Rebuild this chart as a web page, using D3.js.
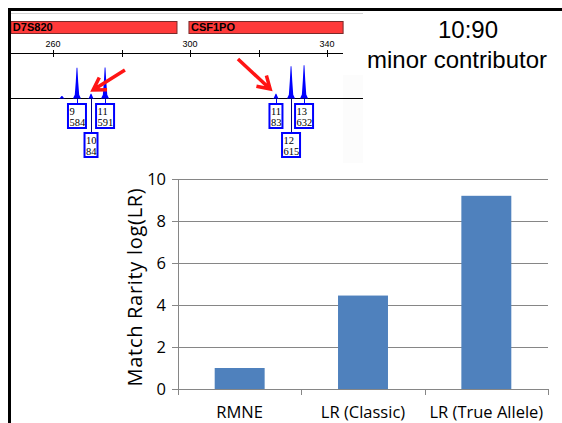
<!DOCTYPE html>
<html>
<head>
<meta charset="utf-8">
<script src="https://cdn.jsdelivr.net/npm/d3@7"></script>
<style>
  body { margin: 0; background: #fff; }
  svg { display: block; }
</style>
</head>
<body>
<div id="chart"></div>
<script>
// bar chart values
var categories = ['RMNE', 'LR (Classic)', 'LR (True Allele)'];
var values = [1.0, 4.45, 9.2];
var yTicks = [0, 2, 4, 6, 8, 10];

// electropherogram inset (base pairs / RFU)
var markers = [
  { name: 'D7S820', start: 247.7, end: 296.2 },
  { name: 'CSF1PO', start: 299.7, end: 344.7 }
];
var bpTicks = [260, 280, 300, 320, 340];
var bpLabels = [260, 300, 340];
var peakAllele = ['', '9', '10', '11', '11', '12', '13'];
var peakBp = [262.6, 267.0, 271.1, 275.2, 325.1, 329.5, 333.3];
var peakRfu = [40, 584, 84, 591, 83, 615, 632];
var peakRow = [-1, 0, 1, 0, 0, 1, 0];
// arrows: tail -> tip, in bp / RFU
var arrows = [
  { x0: 281.0, y0: 542, x1: 271.7, y1: 155 },
  { x0: 314.0, y0: 754, x1: 323.4, y1: 174 }
];

var W = 562, H = 423;

var svg = d3.select('#chart')
  .append('svg')
  .attr('width', W)
  .attr('height', H);

// ---------- electropherogram inset ----------
var bx = d3.scaleLinear().domain([260, 340]).range([53, 327]);
var by = d3.scaleLinear().domain([0, 600]).range([98, 67]);

var ep = svg.append('g').attr('class', 'epg');

ep.append('rect')
  .attr('x', 343).attr('y', 75)
  .attr('width', 20).attr('height', 88)
  .style('fill', '#fcfcfc');

ep.append('line')
  .attr('x1', 11).attr('x2', 363)
  .attr('y1', 13.5).attr('y2', 13.5)
  .style('stroke', '#d4d4d4');

var mk = ep.selectAll('.marker').data(markers).enter().append('g').attr('class', 'marker');
mk.append('rect')
  .attr('x', function(d){ return bx(d.start); })
  .attr('y', 21.5)
  .attr('width', function(d){ return bx(d.end) - bx(d.start); })
  .attr('height', 12)
  .style('fill', '#ff3a3a')
  .style('stroke', '#7a2a2a');
mk.append('text')
  .attr('x', function(d){ return bx(d.start) + 2; })
  .attr('y', 31)
  .style('font-family', 'Liberation Sans, Arial, sans-serif')
  .style('font-weight', 'bold')
  .style('font-size', '11px')
  .text(function(d){ return d.name; });

ep.append('line')
  .attr('x1', 11).attr('x2', 343)
  .attr('y1', 53.5).attr('y2', 53.5)
  .style('stroke', '#000');

ep.selectAll('.bptick').data(bpTicks).enter().append('line')
  .attr('class', 'bptick')
  .attr('x1', function(d){ return Math.round(bx(d)) + 0.5; })
  .attr('x2', function(d){ return Math.round(bx(d)) + 0.5; })
  .attr('y1', 50).attr('y2', 57)
  .style('stroke', '#000');

ep.selectAll('.bplabel').data(bpLabels).enter().append('text')
  .attr('class', 'bplabel')
  .attr('x', function(d){ return bx(d); })
  .attr('y', 47)
  .attr('text-anchor', 'middle')
  .style('font-family', 'Liberation Sans, Arial, sans-serif')
  .style('font-size', '9px')
  .text(function(d){ return d; });

// baseline
ep.append('line')
  .attr('x1', 11).attr('x2', 363)
  .attr('y1', 98.5).attr('y2', 98.5)
  .style('stroke', '#000');

var peaks = peakBp.map(function(b, i){
  return { bp: b, rfu: peakRfu[i], allele: peakAllele[i], row: peakRow[i] };
});

var peakLine = d3.line();
ep.selectAll('.peak').data(peaks).enter().append('path')
  .attr('class', 'peak')
  .attr('d', function(d){
    var x = bx(d.bp), b = by(0) + 0.5, t = by(d.rfu), h = b - t;
    return peakLine([
      [x - 4, b], [x - 2.2, b - h * 0.12], [x - 1.2, b - h * 0.55], [x - 0.4, t],
      [x + 0.4, t], [x + 1.2, b - h * 0.55], [x + 2.2, b - h * 0.12], [x + 4, b]
    ]) + 'Z';
  })
  .style('fill', '#0000ff');

// allele label boxes
var labelled = peaks.filter(function(d){ return d.row >= 0; });
var boxTop = [103, 132], boxH = 26;

ep.selectAll('.conn').data(labelled).enter().append('line')
  .attr('class', 'conn')
  .attr('x1', function(d){ return Math.round(bx(d.bp)) + 0.5; })
  .attr('x2', function(d){ return Math.round(bx(d.bp)) + 0.5; })
  .attr('y1', 99)
  .attr('y2', function(d){ return boxTop[d.row]; })
  .style('stroke', function(d){ return d.row ? '#000080' : '#0000ff'; });

var box = ep.selectAll('.abox').data(labelled).enter().append('g').attr('class', 'abox')
  .attr('transform', function(d){
    var w = String(d.rfu).length > 2 ? 20 : 15;
    return 'translate(' + (bx(d.bp) - w / 2) + ',' + boxTop[d.row] + ')';
  });
box.append('rect')
  .attr('x', 1).attr('y', 1)
  .attr('width', function(d){ return (String(d.rfu).length > 2 ? 20 : 15) - 2; })
  .attr('height', boxH - 2)
  .style('fill', '#fff')
  .style('stroke', '#0000ff')
  .style('stroke-width', 2);
box.append('text')
  .attr('x', 2.5).attr('y', 11.5)
  .style('font-family', 'Liberation Serif, serif')
  .style('font-size', '10.5px')
  .text(function(d){ return d.allele; });
box.append('text')
  .attr('x', 2.5).attr('y', 22.5)
  .style('font-family', 'Liberation Serif, serif')
  .style('font-size', '10.5px')
  .text(function(d){ return d.rfu; });

// red arrows
var ar = ep.selectAll('.arrow').data(arrows).enter().append('g').attr('class', 'arrow');
ar.append('path')
  .attr('d', function(d){
    var x0 = bx(d.x0), y0 = by(d.y0), x1 = bx(d.x1), y1 = by(d.y1);
    var a = Math.atan2(y1 - y0, x1 - x0), L = 14, s = 0.55;
    var p1 = [x1 - L * Math.cos(a - s), y1 - L * Math.sin(a - s)];
    var p2 = [x1 - L * Math.cos(a + s), y1 - L * Math.sin(a + s)];
    return 'M' + x0 + ',' + y0 + 'L' + x1 + ',' + y1 +
      'M' + p1 + 'L' + x1 + ',' + y1 + 'L' + p2;
  })
  .style('fill', 'none')
  .style('stroke', '#ff1414')
  .style('stroke-width', 3.5)
  .style('stroke-linecap', 'butt')
  .style('stroke-linejoin', 'miter');

// frame
svg.append('rect').attr('x', 8).attr('y', 8).attr('width', W - 8).attr('height', 3).style('fill', '#000');
svg.append('rect').attr('x', 8).attr('y', 8).attr('width', 3).attr('height', H - 8).style('fill', '#000');

// ---------- title ----------
svg.append('text')
  .attr('x', 468).attr('y', 38)
  .attr('text-anchor', 'middle')
  .style('font-family', 'Liberation Sans, Arial, sans-serif')
  .style('font-size', '24px')
  .text('10:90');
svg.append('text')
  .attr('x', 457).attr('y', 68)
  .attr('text-anchor', 'middle')
  .style('font-family', 'Liberation Sans, Arial, sans-serif')
  .style('font-size', '24px')
  .text('minor contributor');

// ---------- bar chart ----------
var margin = { left: 178, right: 14, top: 179, bottom: 34 };
var pw = W - margin.left - margin.right, ph = H - margin.top - margin.bottom;

var g = svg.append('g')
  .attr('transform', 'translate(' + margin.left + ',' + margin.top + ')');

var xScale = d3.scaleBand()
  .domain(categories)
  .range([0, pw])
  .paddingInner(0.595)
  .paddingOuter(0.2975);

var yScale = d3.scaleLinear()
  .domain([0, 10])
  .range([ph, 0]);

var axisColor = '#868686';
var font = 'Open Sans, sans-serif';

var yAxis = d3.axisLeft(yScale)
  .tickValues(yTicks)
  .tickSize(-pw)
  .tickSizeOuter(0)
  .tickPadding(12);

var yg = g.append('g').attr('class', 'y-axis').call(yAxis);
yg.select('.domain').remove();
yg.selectAll('.tick line')
  .attr('x1', -6)
  .style('stroke', axisColor);
yg.selectAll('.tick text')
  .style('font-family', font)
  .style('font-size', '16.5px')
  .style('fill', '#000');

g.append('line')
  .attr('x1', 0.5).attr('x2', 0.5)
  .attr('y1', 0).attr('y2', ph)
  .style('stroke', axisColor);

var bounds = [0].concat(categories.map(function(c){ return xScale(c) + xScale.bandwidth() / 2 + xScale.step() / 2; }));
g.append('line')
  .attr('x1', 0).attr('x2', pw)
  .attr('y1', ph + 0.5).attr('y2', ph + 0.5)
  .style('stroke', axisColor);
g.selectAll('.xtick').data(bounds).enter().append('line')
  .attr('class', 'xtick')
  .attr('x1', function(d){ return Math.round(d) + 0.5; })
  .attr('x2', function(d){ return Math.round(d) + 0.5; })
  .attr('y1', ph).attr('y2', ph + 6)
  .style('stroke', axisColor);

g.selectAll('.bar').data(categories).enter().append('rect')
  .attr('class', 'bar')
  .attr('x', function(d){ return xScale(d); })
  .attr('width', xScale.bandwidth())
  .attr('y', function(d, i){ return yScale(values[i]); })
  .attr('height', function(d, i){ return ph - yScale(values[i]); })
  .style('fill', '#4f81bd');

g.selectAll('.xlabel').data(categories).enter().append('text')
  .attr('class', 'xlabel')
  .attr('x', function(d){ return xScale(d) + xScale.bandwidth() / 2; })
  .attr('y', ph + 29)
  .attr('text-anchor', 'middle')
  .style('font-family', font)
  .style('font-size', '16.5px')
  .text(function(d){ return d; });

svg.append('text')
  .attr('transform', 'translate(142,287) rotate(-90)')
  .attr('text-anchor', 'middle')
  .style('font-family', font)
  .style('font-size', '20px')
  .style('letter-spacing', '0.7px')
  .text('Match Rarity log(LR)');
</script>
</body>
</html>
